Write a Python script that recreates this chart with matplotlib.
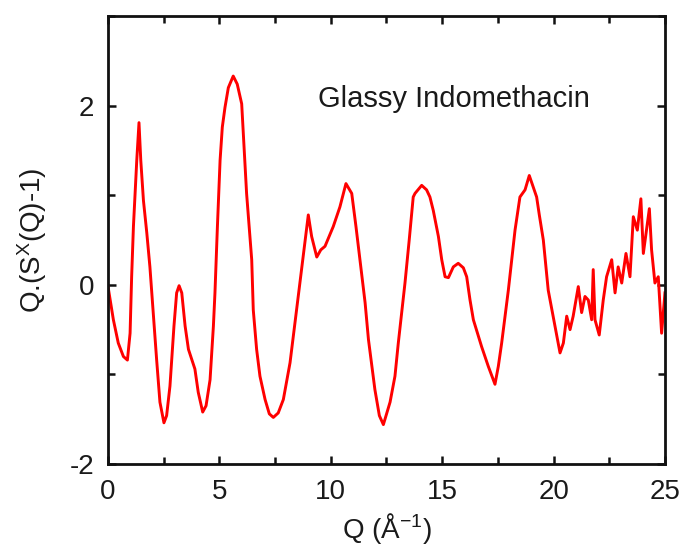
import matplotlib
matplotlib.use("Agg")
import matplotlib.pyplot as plt
from matplotlib.ticker import MultipleLocator

q_values = [0.0, 0.24, 0.46, 0.69, 0.87, 0.99, 1.06, 1.14, 1.29, 1.39, 1.47, 1.59, 1.74, 1.88,
            2.03, 2.18, 2.33, 2.51, 2.63, 2.78, 2.96, 3.08, 3.19, 3.31, 3.46, 3.61, 3.90,
            4.05, 4.25, 4.40, 4.58, 4.73, 4.80, 4.91, 5.03, 5.13, 5.25, 5.40, 5.62, 5.80,
            6.00, 6.10, 6.22, 6.45, 6.52, 6.67, 6.82, 7.05, 7.24, 7.42, 7.64, 7.87, 8.17,
            8.39, 8.62, 8.84, 8.99, 9.14, 9.37, 9.55, 9.74, 10.11, 10.41, 10.68, 10.94,
            11.13, 11.31, 11.54, 11.69, 11.98, 12.18, 12.36, 12.66, 12.88, 13.03, 13.33,
            13.52, 13.70, 13.78, 14.08, 14.30, 14.45, 14.60, 14.83, 14.98, 15.13, 15.28,
            15.50, 15.72, 15.95, 16.10, 16.25, 16.40, 16.77, 17.07, 17.37, 17.52, 17.67,
            17.97, 18.27, 18.49, 18.72, 18.91, 19.09, 19.24, 19.36, 19.54, 19.76, 19.88,
            20.06, 20.29, 20.44, 20.59, 20.74, 20.88, 21.11, 21.26, 21.41, 21.56, 21.71,
            21.78, 21.86, 22.05, 22.23, 22.38, 22.61, 22.76, 22.90, 23.06, 23.25, 23.43,
            23.58, 23.76, 23.92, 24.03, 24.30, 24.40, 24.55, 24.70, 24.85, 25.0]
s_values = [-0.02, -0.39, -0.65, -0.80, -0.84, -0.54, 0.09, 0.65, 1.39, 1.81, 1.39, 0.94, 0.58, 0.20,
            -0.31, -0.83, -1.31, -1.54, -1.46, -1.13, -0.46, -0.09, -0.01, -0.09, -0.46, -0.72, -0.94,
            -1.20, -1.42, -1.35, -1.06, -0.46, -0.09, 0.65, 1.39, 1.76, 1.98, 2.20, 2.33, 2.24,
            2.02, 1.57, 1.02, 0.28, -0.28, -0.72, -1.02, -1.28, -1.44, -1.48, -1.43, -1.28, -0.87,
            -0.43, 0.02, 0.46, 0.78, 0.54, 0.31, 0.39, 0.43, 0.65, 0.87, 1.13, 1.02,
            0.65, 0.28, -0.20, -0.61, -1.17, -1.46, -1.56, -1.31, -1.02, -0.65, 0.02,
            0.50, 0.98, 1.02, 1.11, 1.06, 0.98, 0.83, 0.54, 0.28, 0.09, 0.08,
            0.20, 0.24, 0.19, 0.09, -0.17, -0.39, -0.69, -0.91, -1.11, -0.91, -0.65,
            -0.06, 0.61, 0.98, 1.06, 1.22, 1.09, 0.98, 0.78, 0.50, -0.06, -0.22,
            -0.46, -0.76, -0.65, -0.35, -0.50, -0.35, -0.02, -0.31, -0.13, -0.17, -0.39,
            0.17, -0.39, -0.56, -0.17, 0.09, 0.28, -0.09, 0.20, 0.02, 0.35, 0.09,
            0.76, 0.61, 0.96, 0.35, 0.85, 0.39, 0.02, 0.09, -0.54, -0.09]

plt.rcParams['font.family'] = ['Liberation Sans', 'DejaVu Sans']
plt.rcParams['axes.unicode_minus'] = False
plt.rcParams['mathtext.fontset'] = 'custom'
plt.rcParams['mathtext.rm'] = 'Liberation Sans'
plt.rcParams['mathtext.it'] = 'Liberation Sans'

fig = plt.figure(figsize=(6.82, 5.45), dpi=100)
ax = fig.add_axes([0.1584, 0.1486, 0.8166, 0.822])
ax.plot(q_values, s_values, color='#ff0000', lw=2.1, solid_joinstyle='round')
ax.set_xlim(0, 25)
ax.set_ylim(-2, 3)
ax.xaxis.set_major_locator(MultipleLocator(5))
ax.xaxis.set_minor_locator(MultipleLocator(2.5))
ax.yaxis.set_minor_locator(MultipleLocator(1))
ax.set_yticks([-2, 0, 2])
ax.tick_params(which='both', direction='in', top=True, right=True, labelsize=20, width=1.8, colors='#111111', labelcolor='#1a1a1a')
ax.tick_params(which='major', length=6)
ax.tick_params(which='minor', length=5)
ax.tick_params(axis='x', which='major', pad=11)
ax.tick_params(axis='y', which='major', pad=10)
for s in ax.spines.values():
    s.set_linewidth(2.0)
    s.set_color('#111111')
ax.set_xlabel('Q (Å$^{\\mathrm{-1}}$)', fontsize=20, color='#1a1a1a', labelpad=4)
ax.set_ylabel('Q.(S$^{\\mathrm{X}}$(Q)-1)', fontsize=20, color='#1a1a1a', labelpad=15)
ax.text(0.377, 0.797, 'Glassy Indomethacin', transform=ax.transAxes, fontsize=21, color='#1a1a1a', va='baseline')
fig.savefig('out.png', dpi=100)
